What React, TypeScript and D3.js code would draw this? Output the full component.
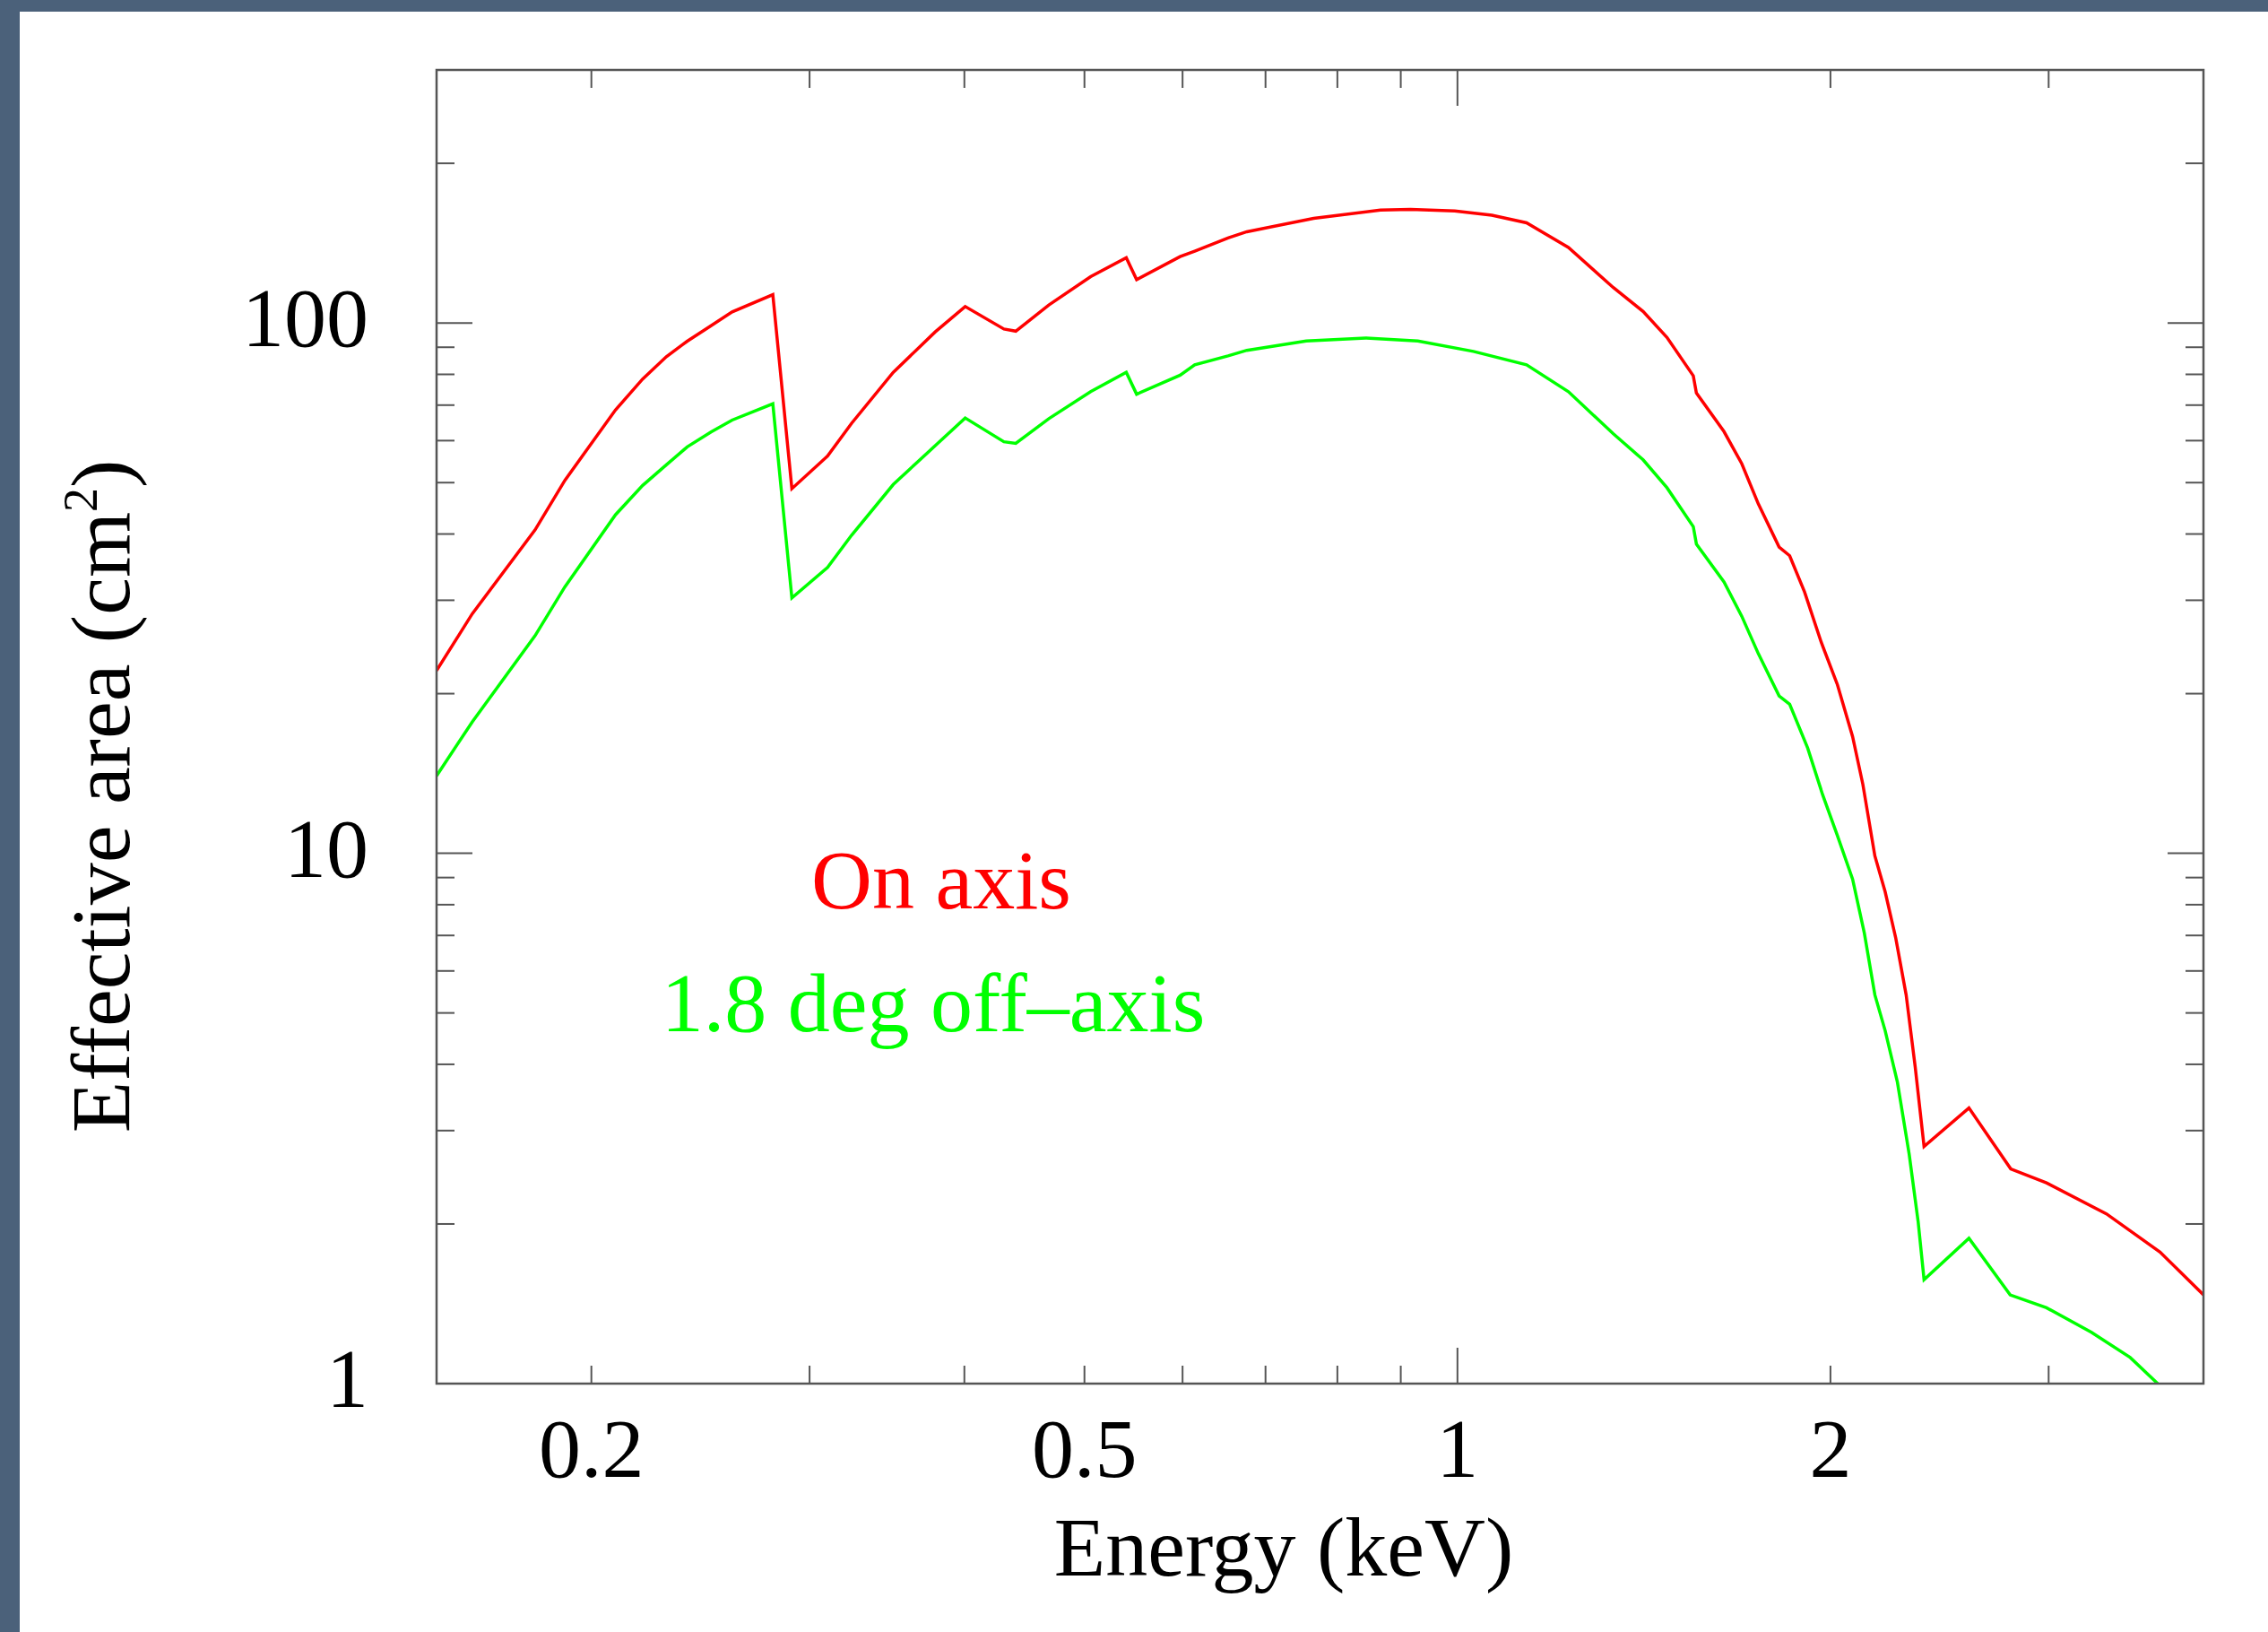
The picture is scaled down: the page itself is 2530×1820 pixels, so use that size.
import React from "react";
import * as d3 from "d3";

// On-axis effective area curve (keV, cm^2)
const energyOn = [
  0.15, 0.1603, 0.1801, 0.1904, 0.2092, 0.22, 0.2299, 0.239, 0.2498, 0.2598,
  0.2802, 0.2903, 0.3102, 0.3244, 0.3505, 0.3789, 0.4006, 0.4305, 0.4401, 0.468,
  0.5058, 0.5404, 0.5509, 0.5973, 0.6137, 0.6529, 0.6761, 0.7655, 0.8667, 0.9162,
  0.995, 1.066, 1.137, 1.229, 1.336, 1.412, 1.476, 1.55, 1.559, 1.641,
  1.696, 1.749, 1.818, 1.854, 1.906, 1.966, 2.026, 2.084, 2.124, 2.172,
  2.214, 2.258, 2.302, 2.341, 2.38, 2.587, 2.796, 2.988, 3.34, 3.69, 4.0,
];
const areaOn = [
  22.1, 28.3, 40.7, 50.5, 68.6, 78.4, 86.4, 92.4, 98.8, 104.9,
  113.1, 48.7, 56.1, 64.7, 80.7, 96.2, 107.4, 97.4, 96.5, 108.1,
  122.3, 132.7, 120.7, 133.4, 136.6, 144.7, 148.6, 157.5, 163.2, 163.8,
  162.7, 159.6, 154.5, 138.8, 116.6, 105.1, 93.9, 79.5, 73.8, 62.4,
  54.3, 45.6, 37.8, 36.4, 31.1, 25.0, 20.8, 16.6, 13.5, 9.89,
  8.46, 6.92, 5.41, 3.96, 2.8, 3.31, 2.54, 2.39, 2.09, 1.77, 1.47,
];

// 1.8 deg off-axis effective area curve (keV, cm^2)
const energyOff = [
  0.15, 0.1603, 0.1801, 0.1904, 0.2092, 0.22, 0.2299, 0.239, 0.2498, 0.2598,
  0.2802, 0.2903, 0.3102, 0.3244, 0.3505, 0.3789, 0.4006, 0.4305, 0.4401, 0.468,
  0.5058, 0.5404, 0.5509, 0.5973, 0.6137, 0.6529, 0.6761, 0.7551, 0.8432, 0.9289,
  1.03, 1.137, 1.229, 1.336, 1.412, 1.476, 1.55, 1.559, 1.641, 1.696,
  1.749, 1.818, 1.854, 1.917, 1.971, 2.026, 2.084, 2.13, 2.172, 2.214,
  2.265, 2.315, 2.354, 2.38, 2.587, 2.793, 2.988, 3.248, 3.491, 3.674, 4.0,
];
const areaOff = [
  14.0, 17.7, 25.7, 31.8, 43.5, 49.4, 54.0, 58.4, 62.3, 65.6,
  70.4, 30.3, 34.6, 39.8, 49.6, 58.7, 66.2, 59.7, 59.3, 66.0,
  74.2, 80.7, 73.4, 79.7, 83.4, 86.7, 88.8, 92.5, 93.7, 92.5,
  88.4, 83.4, 74.2, 61.8, 55.2, 48.9, 41.3, 38.3, 32.5, 28.0,
  23.8, 19.8, 19.1, 15.8, 12.9, 10.8, 8.94, 7.07, 5.41, 4.63,
  3.7, 2.71, 2.02, 1.57, 1.88, 1.47, 1.39, 1.25, 1.12, 1.0, 0.82,
];

const xMajorTicks = [1];
const xMinorTicks = [0.2, 0.3, 0.4, 0.5, 0.6, 0.7, 0.8, 0.9, 2, 3, 4];
const xTickLabels = ["0.2", "0.5", "1", "2"];
const yMajorTicks = [1, 10, 100];
const yMinorTicks = [2, 3, 4, 5, 6, 7, 8, 9, 20, 30, 40, 50, 60, 70, 80, 90, 200, 300];
const yTickLabels = ["1", "10", "100"];

const seriesNames = ["On axis", "1.8 deg off\u2013axis"];
const seriesColors = ["#ff0000", "#00ff00"];

const FONT = "'Liberation Serif', 'Times New Roman', serif";

export default function App() {
  const W = 2530;
  const H = 1820;
  const box = { left: 487, right: 2458, top: 78, bottom: 1543 };

  const x = d3.scaleLog().domain([0.15, 4]).range([box.left, box.right]);
  const y = d3.scaleLog().domain([1, 300]).range([box.bottom, box.top]);

  const line = d3
    .line<[number, number]>()
    .x((d) => x(d[0]))
    .y((d) => y(d[1]));

  const series = [
    d3.zip(energyOn, areaOn) as [number, number][],
    d3.zip(energyOff, areaOff) as [number, number][],
  ];

  const axisColor = "#555";
  const minorLen = 20;
  const majorLen = 40;

  return (
    <svg
      width={W}
      height={H}
      style={{ position: "absolute", left: 0, top: 0, display: "block" }}
      fontFamily={FONT}
    >
      <rect x={0} y={0} width={W} height={H} fill="#4b617a" />
      <rect x={22} y={13} width={W - 22} height={H - 13} fill="#ffffff" />

      <defs>
        <clipPath id="plot-area">
          <rect
            x={box.left}
            y={box.top}
            width={box.right - box.left}
            height={box.bottom - box.top}
          />
        </clipPath>
      </defs>

      {/* curves */}
      <g clipPath="url(#plot-area)">
        {series.map((s, i) => (
          <path
            key={i}
            d={line(s) || ""}
            fill="none"
            stroke={seriesColors[i]}
            strokeWidth={3.5}
            strokeLinejoin="miter"
          />
        ))}
      </g>

      {/* ticks on all four sides */}
      <g stroke={axisColor} strokeWidth={2}>
        {xMinorTicks.map((v) => (
          <g key={"xm" + v}>
            <line x1={x(v)} x2={x(v)} y1={box.bottom} y2={box.bottom - minorLen} />
            <line x1={x(v)} x2={x(v)} y1={box.top} y2={box.top + minorLen} />
          </g>
        ))}
        {xMajorTicks.map((v) => (
          <g key={"xM" + v}>
            <line x1={x(v)} x2={x(v)} y1={box.bottom} y2={box.bottom - majorLen} />
            <line x1={x(v)} x2={x(v)} y1={box.top} y2={box.top + majorLen} />
          </g>
        ))}
        {yMinorTicks.map((v) => (
          <g key={"ym" + v}>
            <line x1={box.left} x2={box.left + minorLen} y1={y(v)} y2={y(v)} />
            <line x1={box.right} x2={box.right - minorLen} y1={y(v)} y2={y(v)} />
          </g>
        ))}
        {yMajorTicks.map((v) => (
          <g key={"yM" + v}>
            <line x1={box.left} x2={box.left + majorLen} y1={y(v)} y2={y(v)} />
            <line x1={box.right} x2={box.right - majorLen} y1={y(v)} y2={y(v)} />
          </g>
        ))}
      </g>

      {/* frame */}
      <rect
        x={box.left}
        y={box.top}
        width={box.right - box.left}
        height={box.bottom - box.top}
        fill="none"
        stroke={axisColor}
        strokeWidth={2.5}
      />

      {/* tick labels */}
      <g fontSize={94} fill="#000">
        {xTickLabels.map((t) => (
          <text key={"xl" + t} x={x(+t)} y={1647} textAnchor="middle">
            {t}
          </text>
        ))}
        {yTickLabels.map((t) => (
          <text key={"yl" + t} x={411} y={y(+t) + 26} textAnchor="end">
            {t}
          </text>
        ))}
      </g>

      {/* axis titles */}
      <text x={1432} y={1757} fontSize={94} textAnchor="middle" fill="#000">
        Energy (keV)
      </text>
      <text
        transform="translate(144,888) rotate(-90)"
        fontSize={94}
        textAnchor="middle"
        fill="#000"
      >
        Effective area (cm
        <tspan fontSize={54} dy={-36}>
          2
        </tspan>
        <tspan dy={36}>)</tspan>
      </text>

      {/* series labels */}
      <text x={1050} y={1013} fontSize={94} textAnchor="middle" fill={seriesColors[0]}>
        {seriesNames[0]}
      </text>
      <text x={1041} y={1150} fontSize={94} textAnchor="middle" fill={seriesColors[1]}>
        {seriesNames[1]}
      </text>
    </svg>
  );
}
